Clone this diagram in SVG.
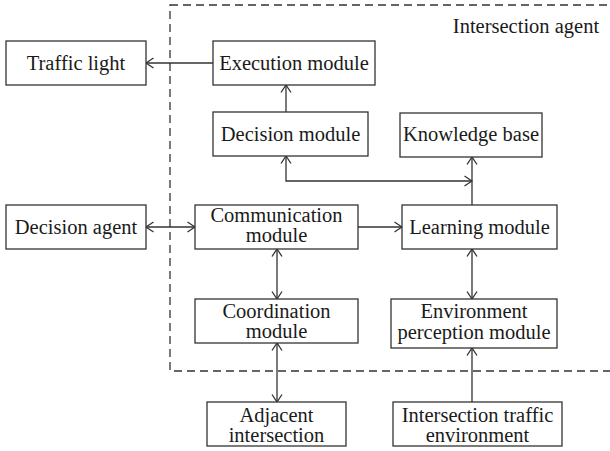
<svg xmlns="http://www.w3.org/2000/svg" width="610" height="451" viewBox="0 0 610 451">
<style>
.box{fill:#fff;stroke:#333;stroke-width:1.3}
.t{font-family:"Liberation Serif","Times New Roman",serif;font-size:20.5px;fill:#1a1a1a;text-anchor:middle}
.c{fill:none;stroke:#333;stroke-width:1.3}
.dash{fill:none;stroke:#333;stroke-width:1.3;stroke-dasharray:8 5}
</style>
<defs>
<marker id="ah" viewBox="0 0 10 12" refX="9.5" refY="6" markerWidth="10" markerHeight="12" markerUnits="userSpaceOnUse" orient="auto-start-reverse">
<path d="M2,1 L9.5,6 L2,11" fill="none" stroke="#333" stroke-width="1.3"/>
</marker>
</defs>
<rect class="dash" x="170" y="5" width="460" height="366"/>
<text class="t" x="526" y="33">Intersection agent</text>
<g id="connectors">
<path class="c" d="M213,63 H146" marker-end="url(#ah)"/>
<path class="c" d="M286,112 V85" marker-end="url(#ah)"/>
<path class="c" d="M286,156 V181 H472" marker-start="url(#ah)" marker-end="url(#ah)"/>
<path class="c" d="M472,205 V157" marker-end="url(#ah)"/>
<path class="c" d="M146,227 H195" marker-start="url(#ah)" marker-end="url(#ah)"/>
<path class="c" d="M358,227 H402" marker-end="url(#ah)"/>
<path class="c" d="M277,249 V299" marker-start="url(#ah)" marker-end="url(#ah)"/>
<path class="c" d="M472,249 V299" marker-start="url(#ah)" marker-end="url(#ah)"/>
<path class="c" d="M277,343 V402" marker-start="url(#ah)" marker-end="url(#ah)"/>
<path class="c" d="M472,402 V348" marker-end="url(#ah)"/>
</g>
<g id="traffic-light"><rect class="box" x="6" y="41" width="140" height="44"/><text class="t" x="76" y="70">Traffic light</text></g>
<g id="execution-module"><rect class="box" x="213" y="41" width="162" height="44"/><text class="t" x="294" y="70">Execution module</text></g>
<g id="decision-module"><rect class="box" x="213" y="112" width="155" height="44"/><text class="t" x="290.5" y="141">Decision module</text></g>
<g id="knowledge-base"><rect class="box" x="400" y="113" width="142" height="44"/><text class="t" x="471" y="141">Knowledge base</text></g>
<g id="decision-agent"><rect class="box" x="6" y="205" width="140" height="44"/><text class="t" x="76" y="234">Decision agent</text></g>
<g id="communication-module"><rect class="box" x="195" y="205" width="163" height="44"/><text class="t" x="276.5" y="222">Communication</text><text class="t" x="276.5" y="242">module</text></g>
<g id="learning-module"><rect class="box" x="402" y="205" width="155" height="44"/><text class="t" x="479.5" y="234">Learning module</text></g>
<g id="coordination-module"><rect class="box" x="195" y="299" width="163" height="44"/><text class="t" x="276.5" y="318">Coordination</text><text class="t" x="276.5" y="338">module</text></g>
<g id="environment-perception-module"><rect class="box" x="391" y="299" width="166" height="49"/><text class="t" x="474" y="318">Environment</text><text class="t" x="474" y="339">perception module</text></g>
<g id="adjacent-intersection"><rect class="box" x="207" y="402" width="139" height="44"/><text class="t" x="276.5" y="422">Adjacent</text><text class="t" x="276.5" y="442">intersection</text></g>
<g id="intersection-traffic-environment"><rect class="box" x="393" y="402" width="169" height="44"/><text class="t" x="477.5" y="422">Intersection traffic</text><text class="t" x="477.5" y="442">environment</text></g>
</svg>
